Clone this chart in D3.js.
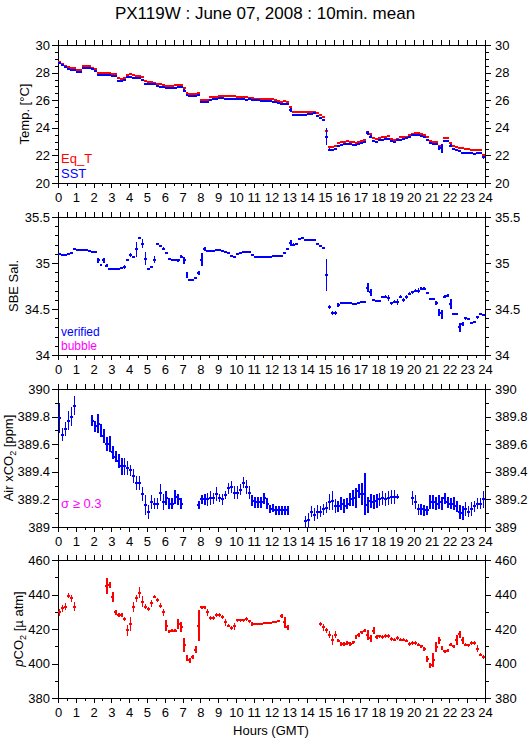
<!DOCTYPE html>
<html>
<head>
<meta charset="utf-8">
<script src="https://cdn.jsdelivr.net/npm/d3@7"></script>
<style>
  body { margin: 0; background: #fff; }
  svg text { font-family: "Liberation Sans", Arial, sans-serif; }
</style>
</head>
<body>
<div id="chart"></div>
<script>
// 10-minute means, 6 slots per hour, 144 per day (null = no data)
var sst = [
  28.67, 28.55, 28.43, 28.25, 28.2, 28.2,
  28.07, 28.05, 28.3, 28.3, 28.3, 28.25,
  28.1, 27.8, 27.8, 27.85, 27.85, 27.8,
  27.75, 27.75, 27.4, 27.4, 27.45, 27.7,
  27.7, 27.62, 27.6, 27.6, 27.5, 27.2,
  27.2, 27.15, 27.15, 27.0, 26.98, 26.95,
  26.9, 26.9, 26.9, 26.92, 26.93, 26.93,
  26.7, 26.35, 26.3, 26.3, 26.3, 26.35,
  25.9, 25.9, 25.9, 26.05, 26.08, 26.1,
  26.13, 26.13, 26.12, 26.12, 26.12, 26.12,
  26.08, 26.06, 26.06, 26.05, 26.06, 26.02,
  26.0, 26.0, 25.97, 25.95, 25.95, 25.93,
  25.9, 25.88, 25.82, 25.75, 25.72, 25.72,
  25.3, 24.95, 24.93, 24.93, 24.95, 24.95,
  25.0, 25.02, 25.05, 24.88, 24.7, 24.56,
  23.35, 22.42, 22.4, 22.46, 22.7, 22.78,
  22.82, 22.85, 22.85, 22.78, 22.76, 22.85,
  22.9, 22.95, 23.65, 23.35, 23.04, 23.0,
  23.08, 23.15, 23.2, 23.2, 23.05, 22.98,
  23.1, 23.12, 23.2, 23.25, 23.35, 23.45,
  23.5, 23.48, 23.42, 23.3, 23.1, 22.87,
  22.85, 22.8, 22.55, 22.5, 23.02, 23.02,
  22.7, 22.45, 22.4, 22.3, 22.15, 22.2,
  22.2, 22.15, 22.12, 22.15, 22.2, 21.86
];
// slot index -> SST standard deviation (only the visible ones)
var sstSd = [
  [0, 0.08], [1, 0.05], [8, 0.05], [13, 0.05], [20, 0.05], [28, 0.05], [29, 0.05],
  [41, 0.06], [42, 0.08], [49, 0.06], [50, 0.06], [78, 0.15], [87, 0.05], [88, 0.06],
  [89, 0.1], [90, 0.6], [91, 0.1], [92, 0.08], [93, 0.08], [104, 0.15], [105, 0.1],
  [110, 0.05], [128, 0.15], [129, 0.3], [132, 0.1], [143, 0.1]
];
var eqT = [
  28.8, 28.6, 28.45, 28.4, 28.35, 28.35,
  28.2, 28.2, 28.45, 28.45, 28.45, 28.35,
  28.25, 28.0, 28.0, 28.0, 27.95, 27.95,
  27.9, 27.88, 27.58, 27.55, 27.6, 27.85,
  27.87, 27.8, 27.75, 27.75, 27.65, 27.4,
  27.35, 27.3, 27.27, 27.17, 27.15, 27.1,
  27.05, 27.02, 27.02, 27.1, 27.08, 27.08,
  26.85, 26.5, 26.45, 26.45, 26.45, 26.55,
  26.05, 26.05, 26.05, 26.2, 26.22, 26.25,
  26.3, 26.3, 26.28, 26.28, 26.28, 26.28,
  26.22, 26.2, 26.2, 26.2, 26.18, 26.15,
  26.12, 26.12, 26.1, 26.08, 26.08, 26.06,
  26.06, 26.02, 25.95, 25.9, 25.92, 25.88,
  25.5, 25.15, 25.12, 25.12, 25.12, 25.12,
  25.17, 25.17, 25.17, 25.05, 24.9, 24.75,
  23.77, 22.63, 22.6, 22.65, 22.87, 22.95,
  23.0, 23.04, 23.0, 22.95, 22.92, 23.0,
  23.05, 23.1, 23.67, 23.53, 23.24, 23.2,
  23.25, 23.3, 23.35, 23.38, 23.2, 23.15,
  23.2, 23.3, 23.35, 23.35, 23.45, 23.55,
  23.62, 23.62, 23.58, 23.5, 23.3, 23.04,
  23.0, 22.95, 22.7, 22.68, 23.24, 23.24,
  22.9, 22.65, 22.6, 22.55, 22.55, 22.5,
  22.45, 22.4, 22.4, 22.4, 22.42, 22.05
];
var sal = [
  35.10, 35.09, 35.09, 35.10, 35.11, 35.155,
  35.136, 35.136, 35.136, 35.136, 35.13, 35.12,
  35.125, 35.03, 34.98, 35.03, 34.97, 34.94,
  34.94, 34.94, 34.94, 34.945, 34.955, 35.03,
  35.09, 35.065, 35.15, 35.27, 35.21, 35.045,
  34.94, 34.96, 35.035, 35.21, 35.19, 35.155,
  35.11, 35.045, 35.03, 35.03, 35.03, 35.07,
  35.03, 34.87, 34.82, 34.82, 34.835, 34.89,
  35.035, 35.155, 35.135, 35.135, 35.135, 35.145,
  35.145, 35.135, 35.12, 35.11, 35.08, 35.07,
  35.1, 35.11, 35.12, 35.12, 35.115, 35.09,
  35.07, 35.07, 35.07, 35.07, 35.07, 35.07,
  35.075, 35.075, 35.075, 35.08, 35.11, 35.155,
  35.22, 35.2, 35.21, 35.26, 35.27, 35.25,
  35.25, 35.25, 35.25, 35.21, 35.185, 35.16,
  34.87, 34.52, 34.46, 34.46, 34.545, 34.565,
  34.565, 34.565, 34.565, 34.55, 34.55, 34.565,
  34.574, 34.574, 34.73, 34.68, 34.6, 34.59,
  34.59, 34.63, 34.635, 34.62, 34.56, 34.58,
  34.574, 34.635, 34.6, 34.63, 34.665, 34.68,
  34.7, 34.7, 34.72, 34.72, 34.675, 34.61,
  34.61, 34.565, 34.46, 34.44, 34.635, 34.645,
  34.555, 34.45, 34.45, 34.3, 34.34, 34.4,
  34.39, 34.35, 34.355, 34.41, 34.45, 34.43
];
var salSd = [
  .01, .01, .01, .01, .01, .01,
  .005, .005, .005, .005, .005, .01,
  .01, .025, .01, .025, .015, .01,
  .005, .005, .005, .01, .025, .01,
  .02, .015, .08, .01, .05, .07,
  .01, .01, .04, .01, .01, .015,
  .015, .01, .005, .005, .015, .02,
  .04, .03, .01, .01, .01, .02,
  .07, .02, .01, .01, .005, .005,
  .005, .01, .01, .01, .01, .01,
  .01, .01, .01, .005, .01, .01,
  .005, .005, .005, .005, .005, .005,
  .005, .005, .005, .01, .01, .01,
  .03, .015, .01, .01, .01, .01,
  .005, .005, .005, .01, .01, .01,
  .17, .025, .02, .02, .02, .01,
  .005, .005, .005, .01, .01, .01,
  .005, .005, .05, .04, .01, .01,
  .01, .01, .015, .03, .02, .02,
  .03, .02, .02, .02, .015, .015,
  .015, .03, .015, .015, .015, .01,
  .01, .02, .04, .05, .015, .015,
  .05, .01, .01, .05, .02, .015,
  .01, .01, .01, .015, .01, .01
];
var xco2 = [
  389.79, 389.67, 389.71, 389.77, 389.80, 389.88,
  null, null, null, null, null, 389.77,
  389.73, 389.75, 389.70, 389.66, 389.60, 389.60,
  389.54, 389.51, 389.48, 389.44, 389.44, 389.43,
  389.41, 389.37, 389.32, 389.32, 389.24, 389.16,
  389.11, 389.18, 389.17, 389.17, 389.25, 389.18,
  389.21, 389.17, 389.17, 389.22, 389.20, 389.17,
  null, null, null, null, null, 389.16,
  389.20, 389.20, 389.20, 389.21, 389.21, 389.24,
  389.21, 389.20, 389.23, 389.28, 389.29, 389.25,
  389.25, 389.27, 389.32, 389.29, 389.25, 389.19,
  389.18, 389.18, 389.18, 389.21, 389.17, 389.13,
  389.14, 389.12, 389.12, 389.12, 389.12, 389.12,
  null, null, null, null, null, 389.04,
  389.05, 389.11, 389.09, 389.11, 389.11, 389.13,
  389.14, 389.18, 389.19, 389.15, 389.15, 389.17,
  389.15, 389.17, 389.20, 389.21, 389.21, 389.26,
  389.24, 389.24, 389.16, 389.19, 389.18, 389.19,
  389.20, 389.21, 389.20, 389.21, 389.22, 389.22,
  389.22, null, null, null, null, 389.21,
  389.18, 389.13, 389.13, 389.12, 389.12, 389.18,
  389.18, 389.17, 389.18, 389.17, 389.21, 389.18,
  389.17, 389.17, 389.15, 389.11, 389.10, 389.13,
  389.11, 389.13, 389.15, 389.17, 389.17, 389.20
];
var xco2Sd = [
  .11, .05, .05, .07, .07, .07,
  0, 0, 0, 0, 0, .04,
  .04, .07, .05, .05, .05, .06,
  .05, .04, .05, .06, .06, .05,
  .04, .05, .05, .05, .05, .07,
  .05, .05, .04, .04, .06, .06,
  .05, .04, .04, .05, .04, .04,
  0, 0, 0, 0, 0, .03,
  .03, .04, .05, .05, .04, .05,
  .03, .04, .03, .04, .04, .05,
  .05, .04, .04, .05, .05, .04,
  .04, .04, .04, .04, .04, .03,
  .03, .03, .03, .03, .03, .03,
  0, 0, 0, 0, 0, .04,
  .05, .04, .05, .05, .04, .04,
  .04, .06, .07, .05, .04, .05,
  .05, .04, .05, .06, .07, .05,
  .08, .15, .06, .05, .05, .05,
  .05, .05, .05, .05, .05, .05,
  .02, 0, 0, 0, 0, .05,
  .05, .04, .04, .04, .03, .05,
  .05, .05, .05, .05, .04, .04,
  .04, .05, .04, .05, .05, .05,
  .04, .05, .04, .04, .04, .06
];
var pco2 = [
  429.6, 432.1, 433.0, 439.2, 437.8, 433.0,
  null, null, null, null, null, null,
  null, null, null, null, 445.0, 445.5,
  438.4, 429.7, 428.2, 428.2, 425.7, 419.2,
  422.8, 432.6, 437.8, 441.1, 435.9, 433.0,
  431.5, 435.0, 438.8, 436.9, 433.4, 429.6,
  422.0, 418.6, 419.0, 419.0, 423.0, 421.1,
  410.5, 403.2, 401.8, 403.7, 408.0, 421.8,
  432.6, 432.6, 429.7, 426.3, 426.3, 428.2,
  428.2, 426.9, 424.0, 422.0, 420.5, 421.5,
  425.0, 425.0, 425.0, 425.7, 424.4, 423.0,
  423.0, 423.0, 423.0, 423.4, 423.4, 423.4,
  423.8, 423.8, 424.4, 427.6, 423.8, 420.9,
  null, null, null, null, null, null,
  null, null, null, null, 423.0, 421.0,
  419.2, 416.6, 413.8, 416.6, 413.2, 411.4,
  411.4, 411.8, 411.4, 412.2, 415.3, 416.6,
  418.0, 419.0, 416.6, 414.7, 419.0, 415.3,
  415.7, 415.3, 416.0, 416.0, 414.1, 413.8,
  414.7, 413.8, 413.8, 413.2, 411.3, 411.8,
  411.8, 410.9, 409.9, 408.5, 402.6, 398.9,
  402.2, 409.5, 413.4, 409.0, 407.0, 407.4,
  410.9, 409.9, 413.8, 417.0, 413.4, 410.9,
  410.5, 411.8, 411.8, 408.5, 405.1, 403.7
];
var pco2Sd = [
  2, 2, 2, 1.5, 2, 2.5,
  0, 0, 0, 0, 0, 0,
  0, 0, 0, 0, 4.5, 2,
  3, 1.5, 1, 1, 1, 3,
  4, 3, 2, 3, 3, 1.5,
  1, 2, 1, 1, 1.5, 2,
  3, 1, 1, 1, 3, 3,
  4, 1.5, 1.5, 1, 2, 9,
  1, 1, 2, 1, 1, 1,
  1, 1, 2, 1, 1, 2,
  1, 1, 1, 1, 1, 1,
  .5, .5, .5, .5, .5, .5,
  .5, .5, .5, 1, 3, 1.5,
  0, 0, 0, 0, 0, 0,
  0, 0, 0, 0, 1, 2,
  1.5, 2, 3, 2, 1, 1,
  1, 1, 1, 1, 1, 1,
  1, 1, 3, 2, 2, 1,
  1, 1, 1, 1, 1, 1,
  1, 1, 1, 1, 1, 1,
  1, 1, 1, 1, 2, 1.5,
  4, 3, 2, 1, 1, 1,
  1, 1, 3, 2, 2, 1,
  1, 1, 1, 2, 1, 1
];

var hourTicks = d3.range(0, 25);
var halfTicks = d3.range(0.5, 24, 1);

var tempTicks = [20, 22, 24, 26, 28, 30];
var salTicks = [34, 34.5, 35, 35.5];
var xco2Ticks = [389, 389.2, 389.4, 389.6, 389.8, 390];
var pco2Ticks = [380, 400, 420, 440, 460];

var width = 529, height = 739;
var left = 58, right = 485, ph = 138;

var svg = d3.select("#chart").append("svg")
    .attr("width", width)
    .attr("height", height);

var x = d3.scaleLinear().domain([0, 24]).range([left, right]);

// title
svg.append("text")
    .attr("x", 265)
    .attr("y", 19)
    .attr("text-anchor", "middle")
    .style("font-size", "17px")
    .text("PX119W : June 07, 2008 : 10min. mean");

function panel(top, domain, ticks, minor, labelX, labelParts) {
    var y = d3.scaleLinear().domain(domain).range([top + ph, top]);
    var g = svg.append("g");

    // x axes, ticks outside the frame
    g.append("g").attr("transform", "translate(0," + (top + ph) + ")")
        .call(d3.axisBottom(x).tickValues(hourTicks).tickSize(5).tickPadding(5)
            .tickFormat(function(d) { return d; }));
    g.append("g").attr("transform", "translate(0," + (top + ph) + ")")
        .call(d3.axisBottom(x).tickValues(halfTicks).tickSize(3).tickFormat(""));
    g.append("g").attr("transform", "translate(0," + top + ")")
        .call(d3.axisTop(x).tickValues(d3.merge([hourTicks, halfTicks])).tickSize(5).tickFormat(""));

    // y axes
    g.append("g").attr("transform", "translate(" + left + ",0)")
        .call(d3.axisLeft(y).tickValues(ticks).tickSize(6).tickPadding(2)
            .tickFormat(function(d) { return d3.format("~g")(d); }));
    g.append("g").attr("transform", "translate(" + left + ",0)")
        .call(d3.axisLeft(y).tickValues(minor).tickSize(3).tickFormat(""));
    g.append("g").attr("transform", "translate(" + right + ",0)")
        .call(d3.axisRight(y).tickValues(ticks).tickSize(6).tickPadding(4)
            .tickFormat(function(d) { return d3.format("~g")(d); }));
    g.append("g").attr("transform", "translate(" + right + ",0)")
        .call(d3.axisRight(y).tickValues(minor).tickSize(4).tickFormat(""));

    g.selectAll(".domain").remove();
    g.selectAll(".tick line").attr("stroke", "#000").attr("shape-rendering", "crispEdges");
    g.selectAll(".tick text").attr("fill", "#000")
        .style("font-size", "13px").style("font-family", "'Liberation Sans', Arial, sans-serif");

    g.append("rect")
        .attr("x", left).attr("y", top)
        .attr("width", right - left).attr("height", ph)
        .attr("fill", "none").attr("stroke", "#000")
        .attr("shape-rendering", "crispEdges");

    // y title
    var t = g.append("text")
        .attr("transform", "translate(" + labelX + "," + (top + ph / 2) + ") rotate(-90)")
        .attr("text-anchor", "middle")
        .attr("dominant-baseline", "central")
        .style("font-size", "13px");
    labelParts.forEach(function(p) {
        var s = t.append("tspan").text(p.text);
        if (p.italic) s.style("font-style", "italic");
        if (p.sub) s.attr("baseline-shift", "sub").style("font-size", "9px");
    });

    var clipId = "clip" + top;
    svg.append("clipPath").attr("id", clipId).append("rect")
        .attr("x", left).attr("y", top).attr("width", right - left).attr("height", ph);
    var marks = g.append("g").attr("clip-path", "url(#" + clipId + ")")
        .attr("shape-rendering", "crispEdges");
    return { y: y, g: g, marks: marks };
}

var step = 1 / 6;

// horizontal 10-min segment plus vertical sd bar
function drawSeries(p, vals, sds, color) {
    var pts = vals.map(function(v, i) { return { i: i, v: v, sd: sds ? sds[i] : 0 }; })
        .filter(function(d) { return d.v !== null; });
    p.marks.selectAll(null).data(pts).enter().append("line")
        .attr("x1", function(d) { return x(d.i * step); })
        .attr("x2", function(d) { return x((d.i + 1) * step); })
        .attr("y1", function(d) { return p.y(d.v); })
        .attr("y2", function(d) { return p.y(d.v); })
        .attr("stroke", color).attr("stroke-width", 2);
    p.marks.selectAll(null).data(pts.filter(function(d) { return d.sd > 0; })).enter().append("line")
        .attr("x1", function(d) { return x((d.i + 0.5) * step); })
        .attr("x2", function(d) { return x((d.i + 0.5) * step); })
        .attr("y1", function(d) { return p.y(d.v - d.sd); })
        .attr("y2", function(d) { return p.y(d.v + d.sd); })
        .attr("stroke", color).attr("stroke-width", 1.5);
}

// panel 1: temperature
var p1 = panel(45, [20, 30], tempTicks, d3.range(20.5, 30, 0.5).filter(function(d) { return d % 2 !== 0; }),
    24, [{ text: "Temp. [°C]" }]);
var sstSdFull = sst.map(function() { return 0; });
sstSd.forEach(function(d) { sstSdFull[d[0]] = d[1]; });
drawSeries(p1, eqT, null, "#ff0000");
drawSeries(p1, sst, sstSdFull, "#0000ff");
p1.g.append("text").attr("x", 61).attr("y", 163).attr("fill", "#ff0000").style("font-size", "13px").text("Eq_T");
p1.g.append("text").attr("x", 61).attr("y", 178).attr("fill", "#0000ff").style("font-size", "13px").text("SST");

// panel 2: salinity
var p2 = panel(217, [34, 35.5], salTicks, [34.1, 34.2, 34.3, 34.4, 34.6, 34.7, 34.8, 34.9, 35.1, 35.2, 35.3, 35.4],
    13, [{ text: "SBE Sal." }]);
drawSeries(p2, sal, salSd, "#0000ff");
p2.g.append("text").attr("x", 61).attr("y", 336).attr("fill", "#0000ff").style("font-size", "12px").text("verified");
p2.g.append("text").attr("x", 61).attr("y", 350).attr("fill", "#ff00ff").style("font-size", "12px").text("bubble");

// panel 3: air xCO2
var p3 = panel(389, [389, 390], xco2Ticks, [389.1, 389.3, 389.5, 389.7, 389.9],
    8, [{ text: "Air xCO" }, { text: "2", sub: true }, { text: " [ppm]" }]);
drawSeries(p3, xco2, xco2Sd, "#0000ff");
p3.g.append("text").attr("x", 61).attr("y", 508).attr("fill", "#ff00ff").style("font-size", "13px").text("σ ≥ 0.3");

// panel 4: pCO2
var p4 = panel(560, [380, 460], pco2Ticks, [390, 410, 430, 450],
    18, [{ text: "p", italic: true }, { text: "CO" }, { text: "2", sub: true }, { text: " [µ atm]" }]);
drawSeries(p4, pco2, pco2Sd, "#ff0000");

// x title
svg.append("text")
    .attr("x", 271)
    .attr("y", 735)
    .attr("text-anchor", "middle")
    .style("font-size", "13px")
    .text("Hours (GMT)");
</script>
</body>
</html>
